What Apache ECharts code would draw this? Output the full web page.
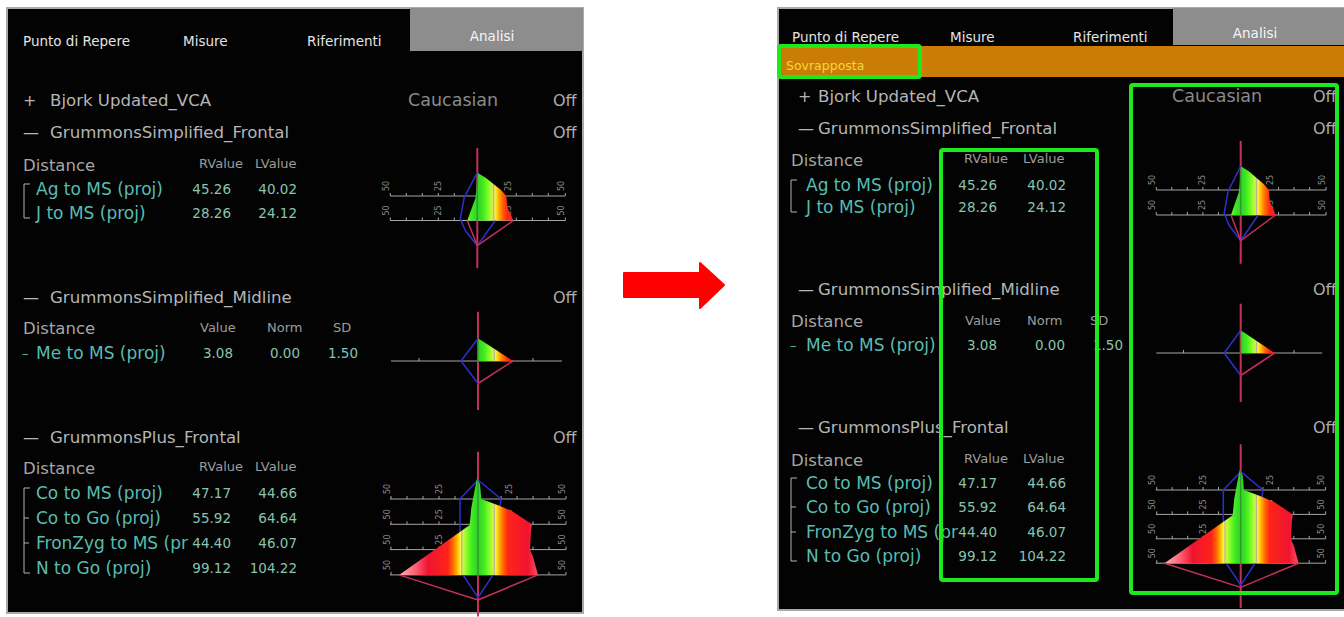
<!DOCTYPE html>
<html>
<head>
<meta charset="utf-8">
<title>Analisi - Sovrapposta</title>
<script src="https://cdn.jsdelivr.net/npm/echarts@6/dist/echarts.min.js"></script>
<style>
html, body { margin: 0; padding: 0; background: #fff; }
#main { width: 1344px; height: 617px; }
</style>
</head>
<body>
<div id="main"></div>
<script>
// texts of the analysis panel
var tabLabels = ['Punto di Repere', 'Misure', 'Riferimenti', 'Analisi'];
var groupNames = ['Bjork Updated_VCA', 'GrummonsSimplified_Frontal', 'GrummonsSimplified_Midline', 'GrummonsPlus_Frontal'];
var groupSigns = ['+', '\u2014', '\u2014', '\u2014'];
var populationLabel = 'Caucasian';
var switchLabel = 'Off';
var overlayLabel = 'Sovrapposta';
var distanceLabel = 'Distance';

// GrummonsSimplified_Frontal
var frontalNames = ['Ag to MS (proj)', 'J to MS (proj)'];
var frontalCols = ['RValue', 'LValue'];
var frontalR = ['45.26', '28.26'];
var frontalL = ['40.02', '24.12'];

// GrummonsSimplified_Midline
var midlineNames = ['Me to MS (proj)'];
var midlineCols = ['Value', 'Norm', 'SD'];
var midlineValue = ['3.08'];
var midlineNorm = ['0.00'];
var midlineSD = ['1.50'];

// GrummonsPlus_Frontal
var plusNames = ['Co to MS (proj)', 'Co to Go (proj)', 'FronZyg to MS (pr', 'N to Go (proj)'];
var plusCols = ['RValue', 'LValue'];
var plusR = ['47.17', '55.92', '44.40', '99.12'];
var plusL = ['44.66', '64.64', '46.07', '104.22'];

// profile diagrams: [deviation, row] pairs, row 0 = first measurement
var frontalFill = [[0, -0.95], [8, -0.76], [24, -0.23], [29, 0], [30, 0.45], [34, 0.8], [36, 1], [-10, 1], [-7, 0.66], [-2, 0.1], [-1, -0.23], [0, -0.95]];
var frontalNormLine = [[0, -0.95], [18, 0], [18, 1], [0, 2.03], [-12, 1.41], [-17, 0.93], [-13, 0.05], [0, -0.95]];
var frontalLowLine = [[-10, 1], [0, 2.03], [36, 1]];
var frontalMidLine = [[0, -1.96], [0, 2.95]];

var midlineFill = [[0, -0.91], [35, 0], [0, 0]];
var midlineNormLine = [[0, -0.9], [-17, 0], [0, 0.9]];
var midlineLowLine = [[35, 0], [0, 0.9]];
var midlineMidLine = [[0, -1.97], [0, 1.96]];

var plusFill = [[-1, -0.82], [2, -0.6], [3.3, 0], [22, 0.28], [35, 0.5], [54, 1], [53, 1.24], [52, 2], [55, 2.28], [60, 3], [-79, 3], [-8.3, 1.03], [-6.7, 0.36], [-5, 0], [-3.3, -0.36]];
var plusNormLine = [[0, -0.75], [23, 0], [20, 1], [15, 3], [0, 3.9], [-15, 3], [-18, 1.2], [-18, 0], [0, -0.75]];
var plusLowLine = [[-79, 3], [0, 3.99], [60, 3]];
var plusMidLine = [[0, -1.87], [0, 4.9]];

// scale ticks and labels on each row
var rowTickPos = [-87, -71, -55, -39, -23, 23, 39, 55, 71, 88];
var rowLabelPos = [-91, -39, 31, 84];
var rowLabels = ['50', '25', '25', '50'];
var midlineTickPos = [-59, 55];

var fontFam = '"DejaVu Sans", sans-serif';

// colour bands of the profile fill by distance from the midline
var bandColors = [[0, '#2a8f2a'], [1.2, '#34d42a'], [6, '#40ec1e'], [12, '#90ff2c'], [15, '#d4f446'], [16.3, '#b4b49c'], [17.6, '#fff43c'], [21, '#ffb800'], [25, '#ff6a00'], [30, '#ff2418'], [50, '#ee1430'], [62, '#ff5c70'], [80, '#ffb8c0']];

function bandStops() {
    var stops = [];
    for (var i = bandColors.length - 1; i >= 0; i--) {
        stops.push({offset: (80 - bandColors[i][0]) / 160, color: bandColors[i][1]});
    }
    for (var j = 1; j < bandColors.length; j++) {
        stops.push({offset: (80 + bandColors[j][0]) / 160, color: bandColors[j][1]});
    }
    return stops;
}

var shapes = [
    {rows: [0, 1], fill: frontalFill, norm: frontalNormLine, low: frontalLowLine, mid: frontalMidLine, from: -87, to: 88, ticks: rowTickPos, labels: rowLabels, labelPos: rowLabelPos},
    {rows: [0], fill: midlineFill, norm: midlineNormLine, low: midlineLowLine, mid: midlineMidLine, from: -87, to: 84, ticks: midlineTickPos, labels: [], labelPos: []},
    {rows: [0, 1, 2, 3], fill: plusFill, norm: plusNormLine, low: plusLowLine, mid: plusMidLine, from: -88, to: 88, ticks: rowTickPos, labels: rowLabels, labelPos: rowLabelPos}
];

// where each diagram sits: midline x, first row y, row spacing, x scale
var diagramBoxes = [
    {cx: 477.3, y0: 196, sp: 24.5, sx: 1, ymin: -2, ymax: 3, shape: 0},
    {cx: 478, y0: 361, sp: 25, sx: 1, ymin: -2, ymax: 2, shape: 1},
    {cx: 478, y0: 499, sp: 25.3, sx: 1, ymin: -2, ymax: 4.6, shape: 2},
    {cx: 1240.7, y0: 190, sp: 25, sx: 0.97, ymin: -2, ymax: 3, shape: 0},
    {cx: 1240.7, y0: 353, sp: 25, sx: 0.97, ymin: -2, ymax: 2, shape: 1},
    {cx: 1240.7, y0: 490, sp: 24.4, sx: 0.965, ymin: -2, ymax: 4.8, shape: 2}
];

function renderRow(shape) {
    return function (params, api) {
        var r = api.value(1);
        var a = api.coord([shape.from, r]);
        var b = api.coord([shape.to, r]);
        var kids = [{type: 'line', shape: {x1: a[0], y1: a[1], x2: b[0], y2: b[1]}, style: {stroke: '#a6a6a6', lineWidth: 1}}];
        shape.ticks.forEach(function (t) {
            var p = api.coord([t, r]);
            kids.push({type: 'line', shape: {x1: p[0], y1: p[1], x2: p[0], y2: p[1] - 3}, style: {stroke: '#a6a6a6', lineWidth: 1}});
        });
        shape.labels.forEach(function (l, i) {
            var p = api.coord([shape.labelPos[i], r]);
            kids.push({type: 'text', x: p[0], y: p[1] - 10, rotation: Math.PI / 2,
                style: {text: l, fill: '#8c8c8c', fontSize: 8, fontFamily: fontFam, align: 'center', verticalAlign: 'middle'}});
        });
        return {type: 'group', children: kids};
    };
}

function renderFill(points) {
    return function (params, api) {
        if (params.dataIndex !== 0) return;
        var pts = points.map(function (p) { return api.coord(p); });
        var a = api.coord([-80, 0]);
        var b = api.coord([80, 0]);
        return {
            type: 'polygon',
            shape: {points: pts},
            style: {fill: new echarts.graphic.LinearGradient(a[0], 0, b[0], 0, bandStops(), true)}
        };
    };
}

var grids = [], xAxes = [], yAxes = [], series = [];
diagramBoxes.forEach(function (d, i) {
    var s = shapes[d.shape];
    grids.push({left: d.cx - 100 * d.sx, top: d.y0 + d.ymin * d.sp, width: 200 * d.sx, height: (d.ymax - d.ymin) * d.sp, outerBoundsMode: 'none'});
    xAxes.push({type: 'value', gridIndex: i, min: -100, max: 100, show: false});
    yAxes.push({type: 'value', gridIndex: i, min: d.ymin, max: d.ymax, inverse: true, show: false});
    series.push({type: 'custom', xAxisIndex: i, yAxisIndex: i, z: 2, silent: true, clip: false,
        data: s.rows.map(function (r) { return [0, r]; }), renderItem: renderRow(s)});
    series.push({type: 'line', xAxisIndex: i, yAxisIndex: i, z: 3, silent: true, symbol: 'none',
        data: s.mid, lineStyle: {color: '#c43058', width: 2}});
    series.push({type: 'line', xAxisIndex: i, yAxisIndex: i, z: 3, silent: true, symbol: 'none',
        data: s.norm, lineStyle: {color: '#2f2fd0', width: 1.5}});
    series.push({type: 'custom', xAxisIndex: i, yAxisIndex: i, z: 4, silent: true, clip: false,
        data: s.fill, renderItem: renderFill(s.fill)});
    series.push({type: 'line', xAxisIndex: i, yAxisIndex: i, z: 5, silent: true, symbol: 'none',
        data: s.low, lineStyle: {color: '#c43058', width: 1.5}});
});

// panel text positions
var panelLayouts = [
    {box: [7, 8, 576, 605], tab: [410, 8, 173, 43], tabX: [23, 183, 307], tabY: 41, tabLabelX: 492, tabLabelY: 36,
        signX: 23, headX: 50, popX: 408, offX: 553, distX: 23, nameX: 36, bracketX: 24,
        hdrX: [199, 255], midHdrX: [200, 267, 333], valR: [231, 297], midValR: [233, 300, 358],
        headY: [100, 132, 297, 437], distY: [165, 328, 468], frontalY: [189, 213], midY: [353], plusY: [493, 518, 543, 568]},
    {box: [778, 8, 580, 602], tab: [1173, 8, 185, 37], tabX: [792, 950, 1073], tabY: 37, tabLabelX: 1255, tabLabelY: 33,
        signX: 798, headX: 818, popX: 1172, offX: 1313, distX: 791, nameX: 806, bracketX: 791,
        hdrX: [964, 1023], midHdrX: [965, 1027, 1090], valR: [997, 1066], midValR: [997, 1065, 1123],
        headY: [96, 128, 289, 427], distY: [160, 321, 460], frontalY: [185, 207], midY: [345], plusY: [483, 507, 532, 556]}
];

function txt(x, y, s, size, color, align) {
    return {type: 'text', x: x, y: y, z: 3, silent: true,
        style: {text: s, fill: color, fontSize: size, fontFamily: fontFam,
            align: align || 'left', textAlign: align || 'left', verticalAlign: 'middle', textVerticalAlign: 'middle'}};
}

function bracket(x, ys) {
    var els = [];
    var top = ys[0] - 5, bottom = ys[ys.length - 1] + 5;
    els.push({type: 'polyline', z: 3, silent: true, shape: {points: [[x + 6, top], [x, top], [x, bottom], [x + 6, bottom]]},
        style: {stroke: '#b4b4b4', lineWidth: 1, fill: null}});
    for (var i = 1; i < ys.length - 1; i++) {
        els.push({type: 'line', z: 3, silent: true, shape: {x1: x, y1: ys[i], x2: x + 5, y2: ys[i]}, style: {stroke: '#b4b4b4', lineWidth: 1}});
    }
    return els;
}

function buildPanel(p, overlay) {
    var els = [];
    els.push({type: 'rect', z: 0, silent: true, shape: {x: p.box[0], y: p.box[1], width: p.box[2], height: p.box[3]},
        style: {fill: '#030303', stroke: '#a9a9a9', lineWidth: 2}});
    els.push({type: 'rect', z: 1, silent: true, shape: {x: p.tab[0], y: p.tab[1], width: p.tab[2], height: p.tab[3]},
        style: {fill: '#8d8d8d'}});
    for (var t = 0; t < 3; t++) els.push(txt(p.tabX[t], p.tabY, tabLabels[t], 13.5, '#e4e4e4'));
    els.push(txt(p.tabLabelX, p.tabLabelY, tabLabels[3], 13.5, '#f6f6f6', 'center'));
    if (overlay) {
        els.push({type: 'rect', z: 1, silent: true, shape: {x: p.box[0], y: 46, width: p.box[2], height: 31}, style: {fill: '#c97d05'}});
        els.push(txt(786, 65, overlayLabel, 12.5, '#f4d63c'));
    }
    groupNames.forEach(function (g, i) {
        els.push(txt(p.signX, p.headY[i], groupSigns[i], 16, '#b5b5b5'));
        els.push(txt(p.headX, p.headY[i], g, 16.6, '#b5b5b5'));
        els.push(txt(p.offX, p.headY[i], switchLabel, 16, '#acacac'));
    });
    els.push(txt(p.popX, p.headY[0], populationLabel, 17.5, '#8a8a8a'));

    // frontal block
    els.push(txt(p.distX, p.distY[0], distanceLabel, 16.5, '#a6a6a6'));
    frontalCols.forEach(function (c, i) { els.push(txt(p.hdrX[i], p.distY[0] - 2, c, 13, '#9c9c9c')); });
    frontalNames.forEach(function (n, i) {
        els.push(txt(p.nameX, p.frontalY[i], n, 17, '#58bcb2'));
        els.push(txt(p.valR[0], p.frontalY[i], frontalR[i], 13.5, '#88c4b0', 'right'));
        els.push(txt(p.valR[1], p.frontalY[i], frontalL[i], 13.5, '#88c4b0', 'right'));
    });
    els = els.concat(bracket(p.bracketX, p.frontalY));

    // midline block
    els.push(txt(p.distX, p.distY[1], distanceLabel, 16.5, '#a6a6a6'));
    midlineCols.forEach(function (c, i) { els.push(txt(p.midHdrX[i], p.distY[1] - 1, c, 13, '#9c9c9c')); });
    midlineNames.forEach(function (n, i) {
        els.push(txt(p.distX - 1, p.midY[i], '\u2013', 13, '#58bcb2'));
        els.push(txt(p.nameX, p.midY[i], n, 17, '#58bcb2'));
        els.push(txt(p.midValR[0], p.midY[i], midlineValue[i], 13.5, '#88c4b0', 'right'));
        els.push(txt(p.midValR[1], p.midY[i], midlineNorm[i], 13.5, '#88c4b0', 'right'));
        els.push(txt(p.midValR[2], p.midY[i], midlineSD[i], 13.5, '#88c4b0', 'right'));
    });

    // plus block
    els.push(txt(p.distX, p.distY[2], distanceLabel, 16.5, '#a6a6a6'));
    plusCols.forEach(function (c, i) { els.push(txt(p.hdrX[i], p.distY[2] - 2, c, 13, '#9c9c9c')); });
    plusNames.forEach(function (n, i) {
        els.push(txt(p.nameX, p.plusY[i], n, 17, '#58bcb2'));
        els.push(txt(p.valR[0], p.plusY[i], plusR[i], 13.5, '#88c4b0', 'right'));
        els.push(txt(p.valR[1], p.plusY[i], plusL[i], 13.5, '#88c4b0', 'right'));
    });
    els = els.concat(bracket(p.bracketX, p.plusY));
    return els;
}

var graphics = buildPanel(panelLayouts[0], false).concat(buildPanel(panelLayouts[1], true));

// arrow between the two screenshots
graphics.push({type: 'polygon', z: 1, silent: true,
    shape: {points: [[624, 273], [700, 273], [700, 263], [724, 285], [700, 308], [700, 297], [624, 297]]},
    style: {fill: '#ff0000', stroke: '#ff0000', lineWidth: 2, lineJoin: 'round'}});

// green highlight boxes
[[779, 46, 141, 31], [941, 150, 156, 430], [1131, 85, 206, 508]].forEach(function (b) {
    graphics.push({type: 'rect', z: 10, silent: true, shape: {x: b[0], y: b[1], width: b[2], height: b[3], r: 2},
        style: {fill: null, stroke: '#1ee81e', lineWidth: 4}});
});

var chart = echarts.init(document.getElementById('main'), null, {renderer: 'svg'});
var option = {
    backgroundColor: '#ffffff',
    animation: false,
    grid: grids,
    xAxis: xAxes,
    yAxis: yAxes,
    graphic: {elements: graphics},
    series: series
};
chart.setOption(option);
</script>
</body>
</html>
